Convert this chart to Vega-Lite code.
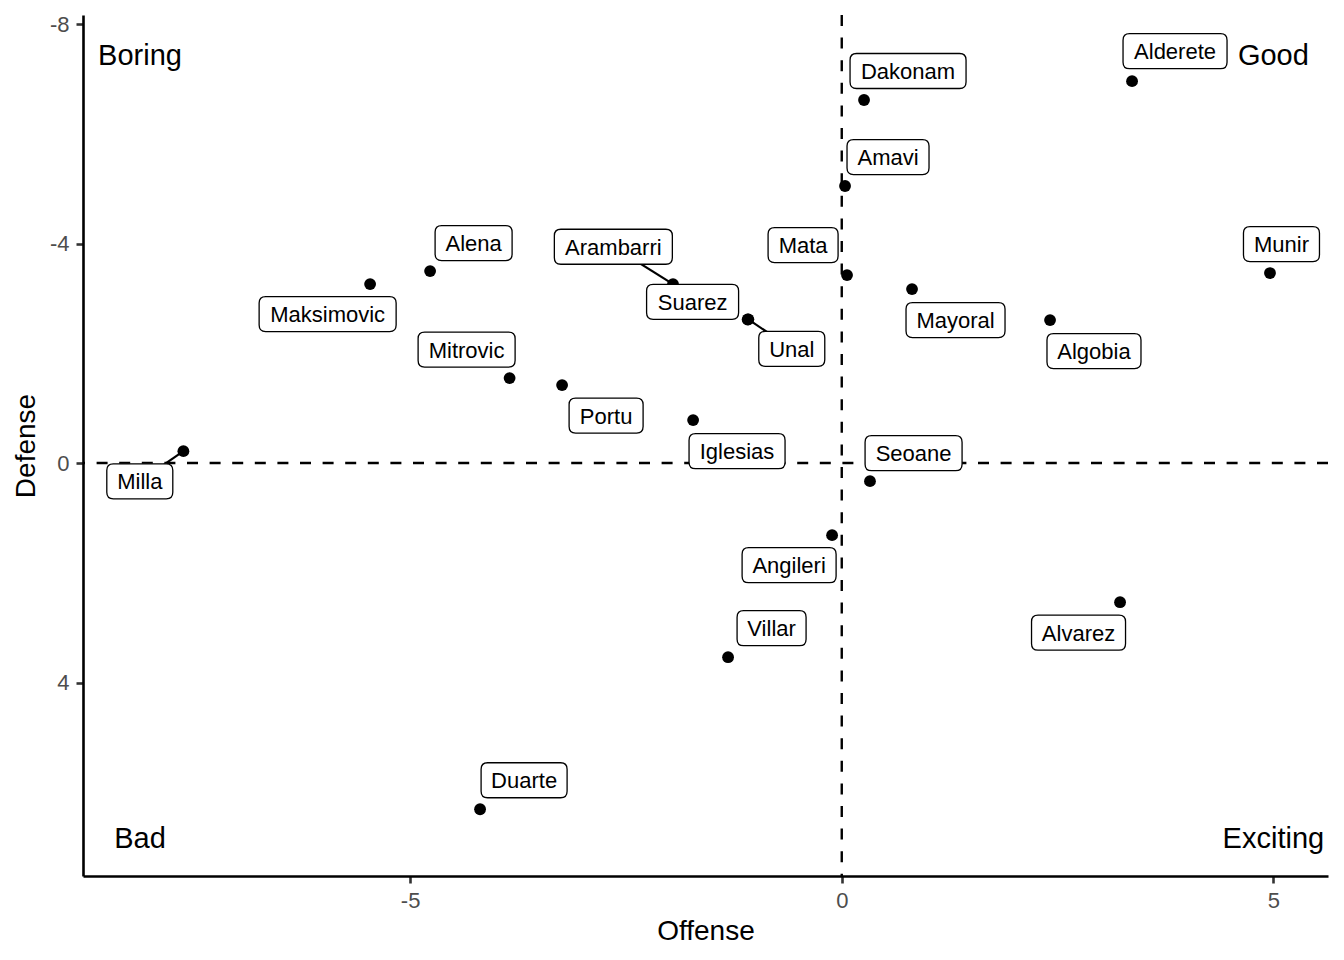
{
  "$schema": "https://vega.github.io/schema/vega-lite/v6.json",
  "autosize": {"type": "none"},
  "padding": {"left": 83, "top": 15, "right": 16, "bottom": 84},
  "width": 1245,
  "height": 861,
  "background": "white",
  "config": {
    "view": {"stroke": null},
    "font": "Liberation Sans",
    "axis": {
      "grid": false,
      "domainColor": "black",
      "domainWidth": 2.6,
      "tickColor": "#333333",
      "tickWidth": 2.6,
      "tickSize": 7,
      "labelFont": "Liberation Sans",
      "labelFontSize": 22,
      "labelColor": "#4d4d4d",
      "labelPadding": 7,
      "labelExpr": "datum.value < 0 ? '-' + abs(datum.value) : '' + datum.value",
      "titleFont": "Liberation Sans",
      "titleFontSize": 28,
      "titleFontWeight": "normal",
      "titleColor": "black"
    }
  },
  "datasets": {
    "players": [
      {"player": "Alderete", "offense": 3.363, "defense": -6.958, "label_offense": 3.861, "label_defense": -7.505},
      {"player": "Dakonam", "offense": 0.258, "defense": -6.615, "label_offense": 0.768, "label_defense": -7.144},
      {"player": "Amavi", "offense": 0.038, "defense": -5.048, "label_offense": 0.536, "label_defense": -5.576},
      {"player": "Munir", "offense": 4.961, "defense": -3.462, "label_offense": 5.094, "label_defense": -3.99},
      {"player": "Mata", "offense": 0.061, "defense": -3.425, "label_offense": -0.448, "label_defense": -3.972},
      {"player": "Mayoral", "offense": 0.814, "defense": -3.17, "label_offense": 1.318, "label_defense": -2.605},
      {"player": "Algobia", "offense": 2.413, "defense": -2.605, "label_offense": 2.922, "label_defense": -2.04},
      {"player": "Alena", "offense": -4.769, "defense": -3.498, "label_offense": -4.265, "label_defense": -4.008},
      {"player": "Maksimovic", "offense": -5.464, "defense": -3.261, "label_offense": -5.956, "label_defense": -2.714},
      {"player": "Arambarri", "offense": -1.955, "defense": -3.261, "label_offense": -2.646, "label_defense": -3.941},
      {"player": "Suarez", "offense": -1.09, "defense": -2.615, "label_offense": -1.728, "label_defense": -2.937},
      {"player": "Unal", "offense": -1.082, "defense": -2.618, "label_offense": -0.579, "label_defense": -2.082},
      {"player": "Mitrovic", "offense": -3.848, "defense": -1.548, "label_offense": -4.346, "label_defense": -2.067},
      {"player": "Portu", "offense": -3.24, "defense": -1.42, "label_offense": -2.73, "label_defense": -0.864},
      {"player": "Iglesias", "offense": -1.722, "defense": -0.782, "label_offense": -1.213, "label_defense": -0.217},
      {"player": "Milla", "offense": -7.627, "defense": -0.217, "label_offense": -8.132, "label_defense": 0.333},
      {"player": "Seoane", "offense": 0.327, "defense": 0.33, "label_offense": 0.832, "label_defense": -0.18},
      {"player": "Angileri", "offense": -0.112, "defense": 1.314, "label_offense": -0.61, "label_defense": 1.861},
      {"player": "Alvarez", "offense": 3.224, "defense": 2.536, "label_offense": 2.743, "label_defense": 3.092},
      {"player": "Villar", "offense": -1.317, "defense": 3.538, "label_offense": -0.813, "label_defense": 3.009},
      {"player": "Duarte", "offense": -4.19, "defense": 6.309, "label_offense": -3.68, "label_defense": 5.78}
    ],
    "quadrants": [
      {"quadrant": "Boring", "offense": -8.13, "defense": -7.44},
      {"quadrant": "Good", "offense": 5.0, "defense": -7.44},
      {"quadrant": "Bad", "offense": -8.13, "defense": 6.84},
      {"quadrant": "Exciting", "offense": 5.0, "defense": 6.84}
    ],
    "origin": [{"offense": 0, "defense": 0}]
  },
  "layer": [
    {
      "data": {"name": "origin"},
      "mark": {"type": "rule", "strokeDash": [11, 11.6], "strokeWidth": 2.4, "color": "black"},
      "encoding": {
        "x": {"field": "offense", "type": "quantitative", "title": "Offense", "scale": {"domain": [-8.79, 5.633], "nice": false, "zero": false}, "axis": {"values": [-5, 0, 5], "titlePadding": 6}}
      }
    },
    {
      "data": {"name": "origin"},
      "mark": {"type": "rule", "strokeDash": [11, 11.6], "strokeWidth": 2.4, "color": "black"},
      "encoding": {
        "y": {"field": "defense", "type": "quantitative", "title": "Defense", "scale": {"domain": [-8.164, 7.525], "nice": false, "zero": false, "reverse": true}, "axis": {"values": [-8, -4, 0, 4], "titlePadding": 9}}
      }
    },
    {
      "data": {"name": "players"},
      "mark": {"type": "point", "filled": true, "color": "black", "opacity": 1, "size": 140},
      "encoding": {
        "x": {"field": "offense", "type": "quantitative", "title": "Offense"},
        "y": {"field": "defense", "type": "quantitative", "title": "Defense"}
      }
    },
    {
      "data": {"name": "players"},
      "transform": [{"filter": "indexof(['Milla', 'Arambarri', 'Unal'], datum.player) >= 0"}],
      "mark": {"type": "rule", "color": "black", "strokeWidth": 2.2},
      "encoding": {
        "x": {"field": "offense", "type": "quantitative", "title": "Offense"},
        "y": {"field": "defense", "type": "quantitative", "title": "Defense"},
        "x2": {"field": "label_offense"},
        "y2": {"field": "label_defense"}
      }
    },
    {
      "data": {"name": "players"},
      "mark": {"type": "point", "filled": true, "fill": "white", "stroke": "black", "strokeWidth": 1.3, "opacity": 1, "size": 40000},
      "encoding": {
        "x": {"field": "label_offense", "type": "quantitative", "title": "Offense"},
        "y": {"field": "label_defense", "type": "quantitative", "title": "Defense"},
        "shape": {
          "field": "player",
          "type": "nominal",
          "legend": null,
          "scale": {
            "domain": ["Alderete", "Dakonam", "Amavi", "Munir", "Mata", "Mayoral", "Algobia", "Alena", "Maksimovic", "Arambarri", "Suarez", "Unal", "Mitrovic", "Portu", "Iglesias", "Milla", "Seoane", "Angileri", "Alvarez", "Villar", "Duarte"],
            "range": [
              "M -0.455,-0.175 L 0.455,-0.175 Q 0.52,-0.175 0.52,-0.11 L 0.52,0.11 Q 0.52,0.175 0.455,0.175 L -0.455,0.175 Q -0.52,0.175 -0.52,0.11 L -0.52,-0.11 Q -0.52,-0.175 -0.455,-0.175 Z",
              "M -0.515,-0.175 L 0.515,-0.175 Q 0.58,-0.175 0.58,-0.11 L 0.58,0.11 Q 0.58,0.175 0.515,0.175 L -0.515,0.175 Q -0.58,0.175 -0.58,0.11 L -0.58,-0.11 Q -0.58,-0.175 -0.515,-0.175 Z",
              "M -0.345,-0.175 L 0.345,-0.175 Q 0.41,-0.175 0.41,-0.11 L 0.41,0.11 Q 0.41,0.175 0.345,0.175 L -0.345,0.175 Q -0.41,0.175 -0.41,0.11 L -0.41,-0.11 Q -0.41,-0.175 -0.345,-0.175 Z",
              "M -0.315,-0.175 L 0.315,-0.175 Q 0.38,-0.175 0.38,-0.11 L 0.38,0.11 Q 0.38,0.175 0.315,0.175 L -0.315,0.175 Q -0.38,0.175 -0.38,0.11 L -0.38,-0.11 Q -0.38,-0.175 -0.315,-0.175 Z",
              "M -0.285,-0.175 L 0.285,-0.175 Q 0.35,-0.175 0.35,-0.11 L 0.35,0.11 Q 0.35,0.175 0.285,0.175 L -0.285,0.175 Q -0.35,0.175 -0.35,0.11 L -0.35,-0.11 Q -0.35,-0.175 -0.285,-0.175 Z",
              "M -0.43,-0.175 L 0.43,-0.175 Q 0.495,-0.175 0.495,-0.11 L 0.495,0.11 Q 0.495,0.175 0.43,0.175 L -0.43,0.175 Q -0.495,0.175 -0.495,0.11 L -0.495,-0.11 Q -0.495,-0.175 -0.43,-0.175 Z",
              "M -0.405,-0.175 L 0.405,-0.175 Q 0.47,-0.175 0.47,-0.11 L 0.47,0.11 Q 0.47,0.175 0.405,0.175 L -0.405,0.175 Q -0.47,0.175 -0.47,0.11 L -0.47,-0.11 Q -0.47,-0.175 -0.405,-0.175 Z",
              "M -0.32,-0.175 L 0.32,-0.175 Q 0.385,-0.175 0.385,-0.11 L 0.385,0.11 Q 0.385,0.175 0.32,0.175 L -0.32,0.175 Q -0.385,0.175 -0.385,0.11 L -0.385,-0.11 Q -0.385,-0.175 -0.32,-0.175 Z",
              "M -0.62,-0.175 L 0.62,-0.175 Q 0.685,-0.175 0.685,-0.11 L 0.685,0.11 Q 0.685,0.175 0.62,0.175 L -0.62,0.175 Q -0.685,0.175 -0.685,0.11 L -0.685,-0.11 Q -0.685,-0.175 -0.62,-0.175 Z",
              "M -0.525,-0.175 L 0.525,-0.175 Q 0.59,-0.175 0.59,-0.11 L 0.59,0.11 Q 0.59,0.175 0.525,0.175 L -0.525,0.175 Q -0.59,0.175 -0.59,0.11 L -0.59,-0.11 Q -0.59,-0.175 -0.525,-0.175 Z",
              "M -0.395,-0.175 L 0.395,-0.175 Q 0.46,-0.175 0.46,-0.11 L 0.46,0.11 Q 0.46,0.175 0.395,0.175 L -0.395,0.175 Q -0.46,0.175 -0.46,0.11 L -0.46,-0.11 Q -0.46,-0.175 -0.395,-0.175 Z",
              "M -0.265,-0.175 L 0.265,-0.175 Q 0.33,-0.175 0.33,-0.11 L 0.33,0.11 Q 0.33,0.175 0.265,0.175 L -0.265,0.175 Q -0.33,0.175 -0.33,0.11 L -0.33,-0.11 Q -0.33,-0.175 -0.265,-0.175 Z",
              "M -0.42,-0.175 L 0.42,-0.175 Q 0.485,-0.175 0.485,-0.11 L 0.485,0.11 Q 0.485,0.175 0.42,0.175 L -0.42,0.175 Q -0.485,0.175 -0.485,0.11 L -0.485,-0.11 Q -0.485,-0.175 -0.42,-0.175 Z",
              "M -0.305,-0.175 L 0.305,-0.175 Q 0.37,-0.175 0.37,-0.11 L 0.37,0.11 Q 0.37,0.175 0.305,0.175 L -0.305,0.175 Q -0.37,0.175 -0.37,0.11 L -0.37,-0.11 Q -0.37,-0.175 -0.305,-0.175 Z",
              "M -0.415,-0.175 L 0.415,-0.175 Q 0.48,-0.175 0.48,-0.11 L 0.48,0.11 Q 0.48,0.175 0.415,0.175 L -0.415,0.175 Q -0.48,0.175 -0.48,0.11 L -0.48,-0.11 Q -0.48,-0.175 -0.415,-0.175 Z",
              "M -0.265,-0.175 L 0.265,-0.175 Q 0.33,-0.175 0.33,-0.11 L 0.33,0.11 Q 0.33,0.175 0.265,0.175 L -0.265,0.175 Q -0.33,0.175 -0.33,0.11 L -0.33,-0.11 Q -0.33,-0.175 -0.265,-0.175 Z",
              "M -0.42,-0.175 L 0.42,-0.175 Q 0.485,-0.175 0.485,-0.11 L 0.485,0.11 Q 0.485,0.175 0.42,0.175 L -0.42,0.175 Q -0.485,0.175 -0.485,0.11 L -0.485,-0.11 Q -0.485,-0.175 -0.42,-0.175 Z",
              "M -0.405,-0.175 L 0.405,-0.175 Q 0.47,-0.175 0.47,-0.11 L 0.47,0.11 Q 0.47,0.175 0.405,0.175 L -0.405,0.175 Q -0.47,0.175 -0.47,0.11 L -0.47,-0.11 Q -0.47,-0.175 -0.405,-0.175 Z",
              "M -0.405,-0.175 L 0.405,-0.175 Q 0.47,-0.175 0.47,-0.11 L 0.47,0.11 Q 0.47,0.175 0.405,0.175 L -0.405,0.175 Q -0.47,0.175 -0.47,0.11 L -0.47,-0.11 Q -0.47,-0.175 -0.405,-0.175 Z",
              "M -0.28,-0.175 L 0.28,-0.175 Q 0.345,-0.175 0.345,-0.11 L 0.345,0.11 Q 0.345,0.175 0.28,0.175 L -0.28,0.175 Q -0.345,0.175 -0.345,0.11 L -0.345,-0.11 Q -0.345,-0.175 -0.28,-0.175 Z",
              "M -0.365,-0.175 L 0.365,-0.175 Q 0.43,-0.175 0.43,-0.11 L 0.43,0.11 Q 0.43,0.175 0.365,0.175 L -0.365,0.175 Q -0.43,0.175 -0.43,0.11 L -0.43,-0.11 Q -0.43,-0.175 -0.365,-0.175 Z"
            ]
          }
        }
      }
    },
    {
      "data": {"name": "players"},
      "mark": {"type": "text", "font": "Liberation Sans", "fontSize": 22, "color": "black", "align": "center", "baseline": "middle", "dy": 1},
      "encoding": {
        "x": {"field": "label_offense", "type": "quantitative", "title": "Offense"},
        "y": {"field": "label_defense", "type": "quantitative", "title": "Defense"},
        "text": {"field": "player", "type": "nominal"}
      }
    },
    {
      "data": {"name": "quadrants"},
      "mark": {"type": "text", "font": "Liberation Sans", "fontSize": 29, "color": "black", "align": "center", "baseline": "middle", "dy": 1},
      "encoding": {
        "x": {"field": "offense", "type": "quantitative", "title": "Offense"},
        "y": {"field": "defense", "type": "quantitative", "title": "Defense"},
        "text": {"field": "quadrant", "type": "nominal"}
      }
    }
  ]
}
